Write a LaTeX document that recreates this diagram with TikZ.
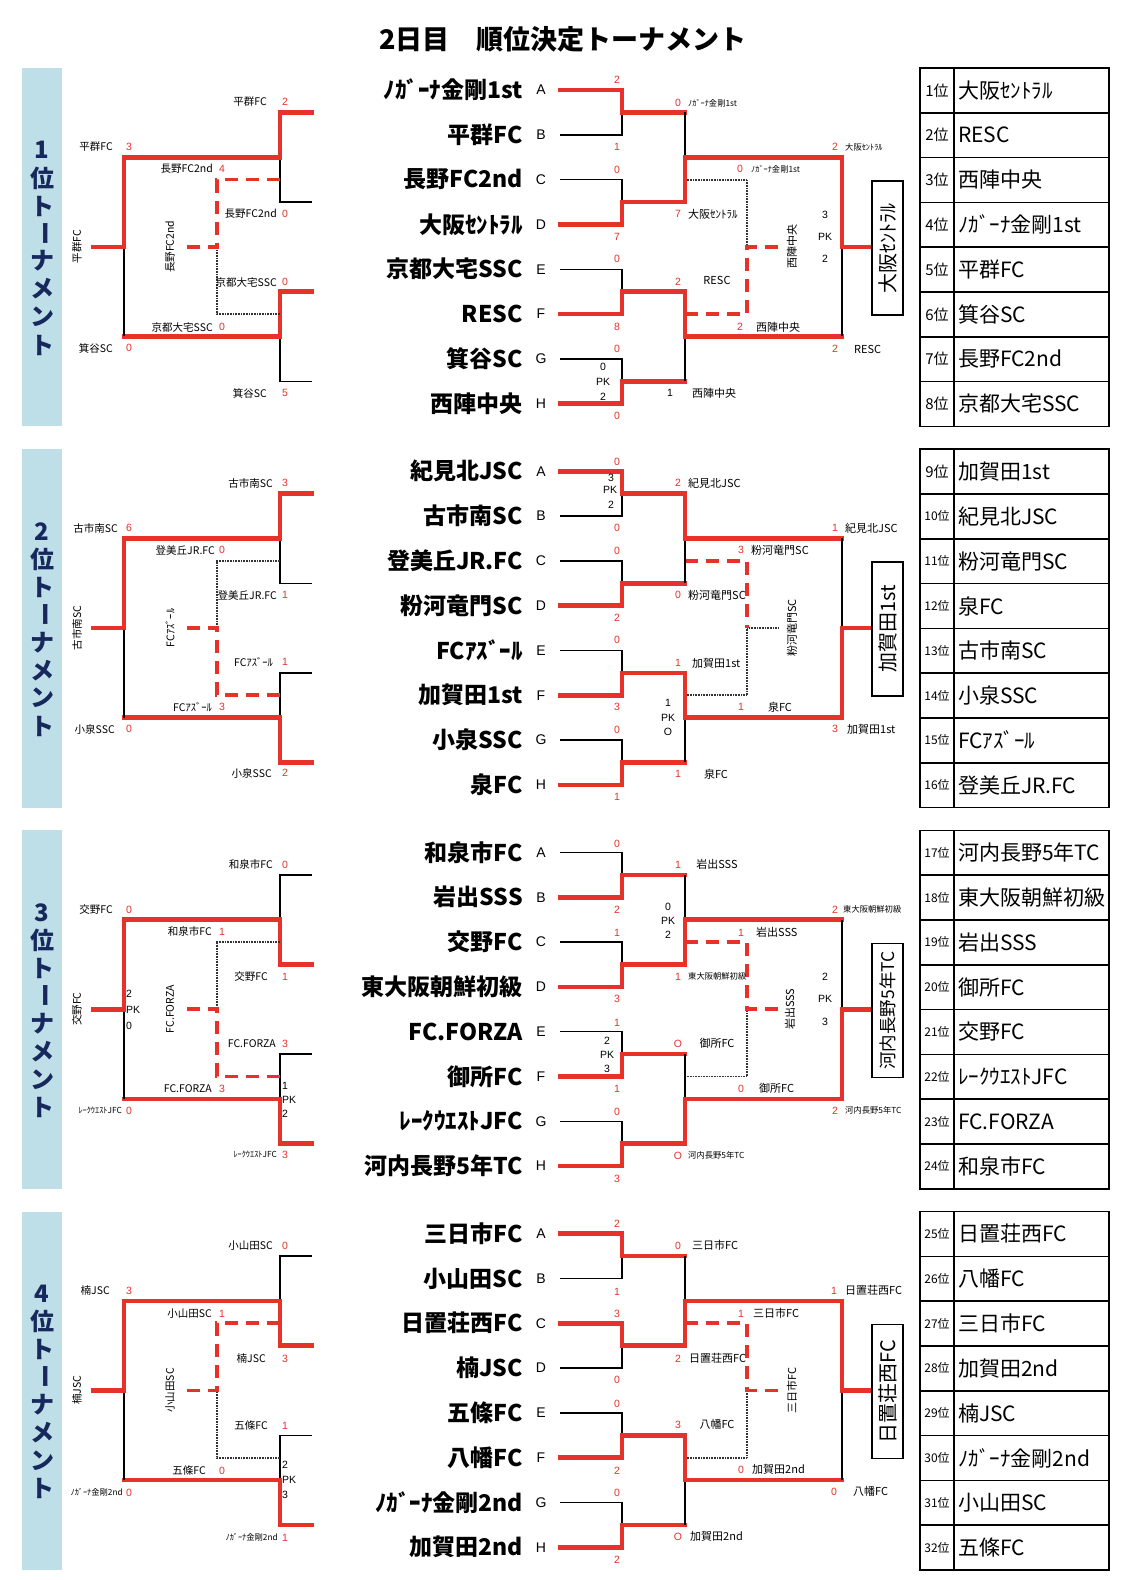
\documentclass[tikz,border=0pt]{standalone}
\usepackage{fontspec}
\newfontfamily\jp{Noto Sans CJK JP}
\newfontfamily\lib{Liberation Sans}
\definecolor{redc}{RGB}{230,50,40}
\definecolor{navy}{RGB}{22,40,92}
\definecolor{bandc}{RGB}{190,222,232}
\newcounter{nn}
\newcommand\T[3][]{\stepcounter{nn}\node[#1] (n\thenn) at (#2) {#3};}
\tikzset{
  rd/.style={draw=redc,line width=4.6pt,line cap=rect,line join=miter},
  bk/.style={draw=black,line width=1.4pt},
  rdash/.style={draw=redc,line width=3.6pt,dash pattern=on 13pt off 8pt},
  bdot/.style={draw=black!80,line width=1.8pt,dash pattern=on 0.7pt off 0.9pt},
  sc/.style={text=redc,font=\lib\fontsize{10.5}{10.5}\selectfont,inner sep=0pt},
  pk/.style={text=black,font=\lib\fontsize{10.5}{10.5}\selectfont,inner sep=0pt},
  lb/.style={font=\jp\fontsize{10.5}{10.5}\selectfont,inner sep=0pt},
  lm/.style={font=\jp\fontsize{11}{11}\selectfont,inner sep=0pt},
  ls/.style={font=\jp\fontsize{8.3}{8.3}\selectfont,inner sep=0pt},
  tm/.style={font=\jp\bfseries\fontsize{23}{23}\selectfont,inner sep=0pt,anchor=east},
  let/.style={font=\lib\fontsize{14}{14}\selectfont,inner sep=0pt},
  bt/.style={font=\jp\bfseries\fontsize{24}{24}\selectfont,text=navy,inner sep=0pt},
  rk/.style={font=\jp\fontsize{15}{15}\selectfont,inner sep=0pt},
  nm/.style={font=\jp\fontsize{21}{21}\selectfont,inner sep=0pt,anchor=west},
  bx/.style={font=\jp\fontsize{20}{20}\selectfont,draw=black,line width=1.6pt,fill=white,
             rotate=90,minimum width=134pt,minimum height=31pt,inner sep=0pt},
  tb/.style={draw=black,line width=1.6pt},
  title/.style={font=\jp\bfseries\fontsize{27}{27}\selectfont,inner sep=0pt}
}
% first round match: xstart, xvert, xout, winner y, loser y
\newcommand\rone[5]{%
  \draw[bk] (#1,#5) -- (#2,#5) -- (#2,{(#4+#5)/2});
  \draw[rd] (#1,#4) -- (#2,#4) -- (#2,{(#4+#5)/2}) -- (#3,{(#4+#5)/2});
}
% later match: xvert, xout, winner y, loser y
\newcommand\rnx[4]{%
  \draw[bk] (#1,#4) -- (#1,{(#3+#4)/2});
  \draw[rd] (#1,#3) -- (#1,{(#3+#4)/2}) -- (#2,{(#3+#4)/2});
}
\newcommand\ctr[8]{%
  \T[tm]{523,90}{#1}\T[tm]{523,134.8}{#2}\T[tm]{523,179.6}{#3}\T[tm]{523,224.4}{#4}%
  \T[tm]{523,269.2}{#5}\T[tm]{523,314}{#6}\T[tm]{523,358.8}{#7}\T[tm]{523,403.6}{#8}%
  \T[let]{541,90}{A}\T[let]{541,134.8}{B}\T[let]{541,179.6}{C}\T[let]{541,224.4}{D}%
  \T[let]{541,269.2}{E}\T[let]{541,314}{F}\T[let]{541,358.8}{G}\T[let]{541,403.6}{H}%
}
\newcommand\band[1]{%
  \fill[bandc] (22,68) rectangle (62,426.4);
  \T[bt]{42,150}{#1}\T[bt]{42,178}{位}\T[bt]{42,206}{ト}\T[bt,rotate=-90]{42,233}{ー}%
  \T[bt]{42,261}{ナ}\T[bt]{42,289}{メ}\T[bt]{42,317}{ン}\T[bt]{42,345}{ト}%
}
\newcommand\tbl[9]{%
  \foreach \k in {1,...,7} {\draw[tb] (920,{68+\k*44.8}) -- (1109,{68+\k*44.8});}
  \draw[tb] (954,68) -- (954,426.4);
  \draw[tb] (920,68) rectangle (1109,426.4);
  \foreach \k in {0,...,7} {\pgfmathtruncatemacro\rnk{#1+\k}
    \T[rk]{937,{90.4+\k*44.8}}{\ifnum\rnk>9 \fontsize{12}{12}\selectfont\fi\rnk 位}}
  \T[nm]{958,90.4}{#2}\T[nm]{958,135.2}{#3}\T[nm]{958,180}{#4}\T[nm]{958,224.8}{#5}%
  \T[nm]{958,269.6}{#6}\T[nm]{958,314.4}{#7}\T[nm]{958,359.2}{#8}\T[nm]{958,404}{#9}%
}
\begin{document}
\begin{tikzpicture}[x=1pt,y=-1pt]
\fill[white] (0,0) rectangle (1130,1580);
\useasboundingbox (0,0) rectangle (1130,1580);
\T[title]{563,39}{2日目　順位決定トーナメント}

%================ SECTION 1
\begin{scope}
\band{1}
\tbl{1}{大阪ｾﾝﾄﾗﾙ}{RESC}{西陣中央}{ﾉｶﾞｰﾅ金剛1st}{平群FC}{箕谷SC}{長野FC2nd}{京都大宅SSC}
\ctr{ﾉｶﾞｰﾅ金剛1st}{平群FC}{長野FC2nd}{大阪ｾﾝﾄﾗﾙ}{京都大宅SSC}{RESC}{箕谷SC}{西陣中央}
\rone{560}{622}{685}{90}{134.8}
\rone{560}{622}{685}{224.4}{179.6}
\rone{560}{622}{685}{314}{269.2}
\rone{560}{622}{685}{403.6}{358.8}
\draw[bdot] (685,179.6)--(747,179.6)--(747,246.8);
\draw[rdash] (685,314)--(747,314)--(747,246.8)--(778,246.8);
\rnx{685}{842}{202}{112.4}
\rnx{685}{842}{291.6}{381.2}
\rnx{842}{872}{157.2}{336.4}
\T[bx]{887.5,248}{大阪ｾﾝﾄﾗﾙ}
\rone{312}{280}{124}{112.4}{202}
\rone{312}{280}{124}{291.6}{381.2}
\draw[bdot] (280,314)--(217,314)--(217,246.8);
\draw[rdash] (280,179.6)--(217,179.6)--(217,246.8)--(187,246.8);
\rnx{124}{93}{157.2}{336.4}
% right labels
\T[sc]{617,80}{2}\T[sc]{617,147}{1}\T[sc]{617,170}{0}\T[sc]{617,237}{7}
\T[sc]{617,259}{0}\T[sc]{617,327}{8}\T[sc]{617,349}{0}\T[sc]{617,416}{0}
\T[pk]{603,367}{0}\T[pk]{603,382}{PK}\T[pk]{603,397}{2}
\T[sc]{678,103}{0}\T[ls,anchor=west]{688,103}{ﾉｶﾞｰﾅ金剛1st}
\T[sc]{678,214}{7}\T[lm,anchor=west]{688,214}{大阪ｾﾝﾄﾗﾙ}
\T[sc]{678,282}{2}\T[lm]{717,280}{RESC}
\T[pk]{670,393}{1}\T[lm,anchor=west]{692,393}{西陣中央}
\T[sc]{835,147}{2}\T[ls,anchor=west]{845,147}{大阪ｾﾝﾄﾗﾙ}
\T[sc]{740,169}{0}\T[ls,anchor=west]{751,169}{ﾉｶﾞｰﾅ金剛1st}
\T[sc]{740,327}{2}\T[lm,anchor=west]{756,327}{西陣中央}
\T[sc]{835,349}{2}\T[lm,anchor=west]{854,349}{RESC}
\T[pk]{825,215}{3}\T[pk]{825,237}{PK}\T[pk]{825,259}{2}
\T[lm,rotate=90]{792,246.8}{西陣中央}
% left labels
\T[lb,anchor=east]{267,102}{平群FC}\T[sc]{285,102}{2}
\T[lb,anchor=east]{113,147}{平群FC}\T[sc]{129,147}{3}
\T[lb,anchor=east]{213,169}{長野FC2nd}\T[sc]{222,169}{4}
\T[lb,anchor=east]{277,214}{長野FC2nd}\T[sc]{285,214}{0}
\T[lb,anchor=east]{277,282}{京都大宅SSC}\T[sc]{285,282}{0}
\T[lb,anchor=east]{213,327}{京都大宅SSC}\T[sc]{222,327}{0}
\T[lb,anchor=east]{113,348}{箕谷SC}\T[sc]{129,348}{0}
\T[lb,anchor=east]{267,393}{箕谷SC}\T[sc]{285,393}{5}
\T[lb,rotate=90]{77,246.8}{平群FC}
\T[lb,rotate=90]{170,246.8}{長野FC2nd}
\end{scope}

%================ SECTION 2
\begin{scope}[yshift=-381.2pt]
\band{2}
\tbl{9}{加賀田1st}{紀見北JSC}{粉河竜門SC}{泉FC}{古市南SC}{小泉SSC}{FCｱｽﾞｰﾙ}{登美丘JR.FC}
\ctr{紀見北JSC}{古市南SC}{登美丘JR.FC}{粉河竜門SC}{FCｱｽﾞｰﾙ}{加賀田1st}{小泉SSC}{泉FC}
\rone{560}{622}{685}{90}{134.8}
\rone{560}{622}{685}{224.4}{179.6}
\rone{560}{622}{685}{314}{269.2}
\rone{560}{622}{685}{403.6}{358.8}
\draw[bdot] (685,314)--(747,314)--(747,246.8)--(778,246.8);
\draw[rdash] (685,179.6)--(747,179.6)--(747,246.8);
\rnx{685}{842}{112.4}{202}
\rnx{685}{842}{291.6}{381.2}
\rnx{842}{872}{336.4}{157.2}
\T[bx]{887.5,248}{加賀田1st}
\rone{312}{280}{124}{112.4}{202}
\rone{312}{280}{124}{381.2}{291.6}
\draw[bdot] (280,179.6)--(217,179.6)--(217,246.8);
\draw[rdash] (280,314)--(217,314)--(217,246.8)--(187,246.8);
\rnx{124}{93}{157.2}{336.4}
% right labels
\T[sc]{617,81}{0}\T[sc]{617,147}{0}\T[sc]{617,170}{0}\T[sc]{617,237}{2}
\T[sc]{617,259}{0}\T[sc]{617,326}{3}\T[sc]{617,349}{0}\T[sc]{617,416}{1}
\T[pk]{611,97}{3}\T[pk]{610,109}{PK}\T[pk]{611,124}{2}
\T[sc]{678,102}{2}\T[lm,anchor=west]{688,102}{紀見北JSC}
\T[sc]{678,214}{0}\T[lm,anchor=west]{688,214}{粉河竜門SC}
\T[sc]{678,282}{1}\T[lm,anchor=west]{692,282}{加賀田1st}
\T[sc]{678,393}{1}\T[lm]{716,393}{泉FC}
\T[pk]{668,322}{1}\T[pk]{668,337}{PK}\T[pk]{668,351}{O}
\T[sc]{835,147}{1}\T[lm,anchor=west]{845,147}{紀見北JSC}
\T[sc]{741,169}{3}\T[lm,anchor=west]{751,169}{粉河竜門SC}
\T[sc]{741,326}{1}\T[lm]{780,326}{泉FC}
\T[sc]{835,348}{3}\T[lm,anchor=west]{847,348}{加賀田1st}
\T[lm,rotate=90]{792,246.8}{粉河竜門SC}
% left labels
\T[lb,anchor=east]{273,102}{古市南SC}\T[sc]{285,102}{3}
\T[lb,anchor=east]{118,147}{古市南SC}\T[sc]{129,147}{6}
\T[lb,anchor=east]{215,169}{登美丘JR.FC}\T[sc]{222,169}{0}
\T[lb,anchor=east]{277,214}{登美丘JR.FC}\T[sc]{285,214}{1}
\T[lb,anchor=east]{273,281}{FCｱｽﾞｰﾙ}\T[sc]{285,281}{1}
\T[lb,anchor=east]{212,326}{FCｱｽﾞｰﾙ}\T[sc]{222,326}{3}
\T[lb,anchor=east]{115,348}{小泉SSC}\T[sc]{129,348}{0}
\T[lb,anchor=east]{272,392}{小泉SSC}\T[sc]{285,392}{2}
\T[lb,rotate=90]{77,246.8}{古市南SC}
\T[lb,rotate=90]{170,246.8}{FCｱｽﾞｰﾙ}
\end{scope}

%================ SECTION 3
\begin{scope}[yshift=-762.4pt]
\band{3}
\tbl{17}{河内長野5年TC}{東大阪朝鮮初級}{岩出SSS}{御所FC}{交野FC}{ﾚｰｸｳｴｽﾄJFC}{FC.FORZA}{和泉市FC}
\ctr{和泉市FC}{岩出SSS}{交野FC}{東大阪朝鮮初級}{FC.FORZA}{御所FC}{ﾚｰｸｳｴｽﾄJFC}{河内長野5年TC}
\rone{560}{622}{685}{134.8}{90}
\rone{560}{622}{685}{224.4}{179.6}
\rone{560}{622}{685}{314}{269.2}
\rone{560}{622}{685}{403.6}{358.8}
\draw[bdot] (685,314)--(747,314)--(747,246.8);
\draw[rdash] (685,179.6)--(747,179.6)--(747,246.8)--(778,246.8);
\rnx{685}{842}{202}{112.4}
\rnx{685}{842}{381.2}{291.6}
\rnx{842}{872}{336.4}{157.2}
\T[bx,font=\jp\fontsize{17.5}{17.5}\selectfont]{887.5,248}{河内長野5年TC}
\rone{312}{280}{124}{202}{112.4}
\rone{312}{280}{124}{381.2}{291.6}
\draw[bdot] (280,179.6)--(217,179.6)--(217,246.8);
\draw[rdash] (280,314)--(217,314)--(217,246.8)--(187,246.8);
\rnx{124}{93}{157.2}{336.4}
% right labels
\T[sc]{617,81}{0}\T[sc]{617,147}{2}\T[sc]{617,170}{1}\T[sc]{617,236}{3}
\T[sc]{617,260}{1}\T[sc]{617,326}{1}\T[sc]{617,349}{0}\T[sc]{617,416}{3}
\T[pk]{607,278}{2}\T[pk]{607,292}{PK}\T[pk]{607,306}{3}
\T[sc]{678,102}{1}\T[lm]{717,102}{岩出SSS}
\T[pk]{668,144}{0}\T[pk]{668,158}{PK}\T[pk]{668,172}{2}
\T[sc]{678,214}{1}\T[ls,anchor=west]{688,214}{東大阪朝鮮初級}
\T[sc]{678,281}{O}\T[lm]{717,281}{御所FC}
\T[sc]{678,393}{O}\T[ls,anchor=west]{688,393}{河内長野5年TC}
\T[sc]{835,147}{2}\T[ls,anchor=west]{843,147}{東大阪朝鮮初級}
\T[sc]{741,170}{1}\T[lm,anchor=west]{756,170}{岩出SSS}
\T[sc]{741,326}{0}\T[lm,anchor=west]{759,326}{御所FC}
\T[sc]{835,348}{2}\T[ls,anchor=west]{845,348}{河内長野5年TC}
\T[pk]{825,214}{2}\T[pk]{825,236}{PK}\T[pk]{825,259}{3}
\T[lm,rotate=90]{790,246.8}{岩出SSS}
% left labels
\T[lb,anchor=east]{273,102}{和泉市FC}\T[sc]{285,102}{0}
\T[lb,anchor=east]{113,147}{交野FC}\T[sc]{129,147}{0}
\T[lb,anchor=east]{212,169}{和泉市FC}\T[sc]{222,169}{1}
\T[lb,anchor=east]{268,214}{交野FC}\T[sc]{285,214}{1}
\T[lb,anchor=east]{276,281}{FC.FORZA}\T[sc]{285,281}{3}
\T[lb,anchor=east]{212,326}{FC.FORZA}\T[sc]{222,326}{3}
\T[ls,anchor=east]{122,348}{ﾚｰｸｳｴｽﾄJFC}\T[sc]{129,348}{0}
\T[ls,anchor=east]{277,392}{ﾚｰｸｳｴｽﾄJFC}\T[sc]{285,392}{3}
\T[pk,anchor=west]{126,231}{2}\T[pk,anchor=west]{126,247}{PK}\T[pk,anchor=west]{126,263}{0}
\T[pk,anchor=west]{282,323}{1}\T[pk,anchor=west]{282,337}{PK}\T[pk,anchor=west]{282,351}{2}
\T[lb,rotate=90]{77,246.8}{交野FC}
\T[lb,rotate=90]{170,246.8}{FC.FORZA}
\end{scope}

%================ SECTION 4
\begin{scope}[yshift=-1143.6pt]
\band{4}
\tbl{25}{日置荘西FC}{八幡FC}{三日市FC}{加賀田2nd}{楠JSC}{ﾉｶﾞｰﾅ金剛2nd}{小山田SC}{五條FC}
\ctr{三日市FC}{小山田SC}{日置荘西FC}{楠JSC}{五條FC}{八幡FC}{ﾉｶﾞｰﾅ金剛2nd}{加賀田2nd}
\rone{560}{622}{685}{90}{134.8}
\rone{560}{622}{685}{179.6}{224.4}
\rone{560}{622}{685}{314}{269.2}
\rone{560}{622}{685}{403.6}{358.8}
\draw[bdot] (685,314)--(747,314)--(747,246.8);
\draw[rdash] (685,179.6)--(747,179.6)--(747,246.8)--(778,246.8);
\rnx{685}{842}{202}{112.4}
\rnx{685}{842}{291.6}{381.2}
\rnx{842}{872}{157.2}{336.4}
\T[bx]{887.5,248}{日置荘西FC}
\rone{312}{280}{124}{202}{112.4}
\rone{312}{280}{124}{381.2}{291.6}
\draw[bdot] (280,314)--(217,314)--(217,246.8);
\draw[rdash] (280,179.6)--(217,179.6)--(217,246.8)--(187,246.8);
\rnx{124}{93}{157.2}{336.4}
% right labels
\T[sc]{617,80}{2}\T[sc]{617,148}{1}\T[sc]{617,170}{3}\T[sc]{617,236}{0}
\T[sc]{617,260}{0}\T[sc]{617,327}{2}\T[sc]{617,349}{0}\T[sc]{617,416}{2}
\T[sc]{678,102}{0}\T[lm,anchor=west]{692,102}{三日市FC}
\T[sc]{678,215}{2}\T[lm,anchor=west]{689,215}{日置荘西FC}
\T[sc]{678,281}{3}\T[lm]{717,281}{八幡FC}
\T[sc]{678,393}{O}\T[lm,anchor=west]{690,393}{加賀田2nd}
\T[sc]{834,147}{1}\T[lm,anchor=west]{845,147}{日置荘西FC}
\T[sc]{741,170}{1}\T[lm,anchor=west]{753,170}{三日市FC}
\T[sc]{741,326}{0}\T[lm,anchor=west]{752,326}{加賀田2nd}
\T[sc]{834,348}{0}\T[lm,anchor=west]{853,348}{八幡FC}
\T[lm,rotate=90]{792,246.8}{三日市FC}
% left labels
\T[lb,anchor=east]{273,102}{小山田SC}\T[sc]{285,102}{0}
\T[lb,anchor=east]{110,147}{楠JSC}\T[sc]{129,147}{3}
\T[lb,anchor=east]{212,170}{小山田SC}\T[sc]{222,170}{1}
\T[lb,anchor=east]{266,215}{楠JSC}\T[sc]{285,215}{3}
\T[lb,anchor=east]{268,282}{五條FC}\T[sc]{285,282}{1}
\T[lb,anchor=east]{206,327}{五條FC}\T[sc]{222,327}{0}
\T[ls,anchor=east]{123,349}{ﾉｶﾞｰﾅ金剛2nd}\T[sc]{129,349}{0}
\T[ls,anchor=east]{278,394}{ﾉｶﾞｰﾅ金剛2nd}\T[sc]{285,394}{1}
\T[pk,anchor=west]{282,321}{2}\T[pk,anchor=west]{282,336}{PK}\T[pk,anchor=west]{282,351}{3}
\T[lb,rotate=90]{77,246.8}{楠JSC}
\T[lb,rotate=90]{170,246.8}{小山田SC}
\end{scope}
\end{tikzpicture}
\end{document}
